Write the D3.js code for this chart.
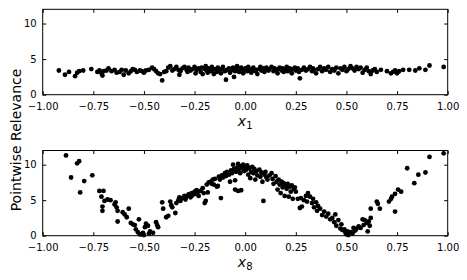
<!DOCTYPE html>
<html>
<head>
<meta charset="utf-8">
<script src="https://cdn.jsdelivr.net/npm/d3@7"></script>
<style>
  body { margin: 0; background: #fff; }
  svg { display: block; }
  .tick text { font-family: "DejaVu Sans", sans-serif; font-size: 10px; fill: #000; }
  .tick line { stroke: #000; }
</style>
</head>
<body>
<script>
// estimated relevance of feature x1 (top panel)
const pointsX1 = [
  [-0.92,3.4],[-0.89,2.8],[-0.87,3.2],[-0.84,2.6],[-0.83,3.1],[-0.82,3.3],[-0.80,3.4],[-0.76,3.6],
  [-0.73,3.2],[-0.72,3.4],[-0.71,3.0],[-0.705,2.7],[-0.70,3.3],[-0.685,3.4],[-0.675,3.7],[-0.66,3.3],
  [-0.645,3.5],[-0.635,3.1],[-0.62,3.2],[-0.61,3.5],[-0.60,2.8],[-0.59,3.4],[-0.575,3.0],[-0.565,3.3],
  [-0.555,3.6],[-0.545,3.5],[-0.535,3.2],[-0.52,3.4],[-0.51,3.3],[-0.50,3.1],[-0.49,3.4],[-0.475,3.5],
  [-0.46,3.8],[-0.45,3.6],[-0.44,3.3],[-0.43,3.0],[-0.42,2.9],[-0.41,2.0],[-0.40,3.2],[-0.39,3.3],
  [-0.38,3.8],[-0.37,4.0],[-0.36,3.4],[-0.35,3.6],[-0.34,3.9],[-0.33,3.5],[-0.325,2.8],[-0.32,3.3],
  [-0.31,3.7],[-0.30,3.9],[-0.29,3.5],[-0.285,3.2],[-0.28,3.8],[-0.27,3.4],[-0.26,3.6],[-0.25,3.9],
  [-0.245,3.0],[-0.24,3.5],[-0.23,3.7],[-0.22,3.2],[-0.215,3.8],[-0.21,2.9],[-0.20,3.6],[-0.195,4.0],
  [-0.19,3.4],[-0.185,3.1],[-0.18,3.7],[-0.17,3.3],[-0.165,3.9],[-0.16,3.5],[-0.155,2.9],[-0.15,3.6],
  [-0.14,3.2],[-0.135,3.8],[-0.13,3.4],[-0.12,3.0],[-0.115,3.6],[-0.11,3.9],[-0.10,3.3],[-0.095,2.1],
  [-0.09,3.5],[-0.08,3.7],[-0.075,3.1],[-0.07,3.4],[-0.06,3.8],[-0.055,2.5],[-0.05,3.3],[-0.045,3.6],
  [-0.04,4.0],[-0.03,3.2],[-0.025,3.5],[-0.02,3.8],[-0.01,3.0],[-0.005,3.4],[0.0,3.7],[0.01,3.3],
  [0.015,3.9],[0.02,3.5],[0.03,3.1],[0.035,3.6],[0.04,3.8],[0.05,3.3],[0.055,3.5],[0.06,2.9],
  [0.07,3.6],[0.075,3.9],[0.08,3.4],[0.09,3.7],[0.095,3.2],[0.10,3.5],[0.105,3.8],[0.115,3.4],
  [0.12,3.6],[0.13,3.9],[0.14,3.3],[0.145,3.7],[0.15,3.5],[0.16,3.0],[0.165,3.6],[0.17,3.8],
  [0.18,3.4],[0.185,3.7],[0.19,3.2],[0.20,3.6],[0.205,3.9],[0.21,3.3],[0.22,3.7],[0.225,3.5],
  [0.23,3.0],[0.24,3.6],[0.245,3.8],[0.25,3.4],[0.26,3.7],[0.265,3.2],[0.27,2.3],[0.28,3.5],
  [0.29,3.8],[0.30,3.4],[0.31,3.6],[0.32,3.9],[0.33,3.3],[0.335,3.7],[0.34,3.5],[0.35,3.0],
  [0.36,3.6],[0.37,3.9],[0.38,3.3],[0.39,3.7],[0.40,3.5],[0.41,3.9],[0.42,3.2],[0.43,3.6],
  [0.44,3.4],[0.45,3.8],[0.46,3.0],[0.47,3.7],[0.48,3.5],[0.49,3.9],[0.50,3.3],[0.51,3.6],
  [0.52,4.0],[0.53,3.7],[0.54,3.4],[0.55,3.9],[0.56,3.6],[0.57,3.8],[0.58,3.1],[0.59,3.5],
  [0.60,3.8],[0.61,3.3],[0.62,2.9],[0.63,3.4],[0.64,3.6],[0.65,3.2],[0.67,3.5],[0.70,3.3],
  [0.72,3.0],[0.73,3.2],[0.74,3.4],[0.75,3.0],[0.76,3.3],[0.78,3.5],[0.81,3.5],[0.84,3.4],
  [0.86,3.7],[0.89,3.5],[0.91,4.1],[0.98,3.9]
];

// estimated relevance of feature x8 (bottom panel)
const pointsX8 = [
  [-0.885,11.3],[-0.86,8.2],[-0.83,10.2],[-0.82,10.5],[-0.815,6.1],[-0.795,7.7],[-0.755,8.5],[-0.72,6.3],
  [-0.70,6.3],[-0.71,5.5],[-0.695,4.9],[-0.705,4.1],[-0.705,3.5],[-0.68,5.1],[-0.665,5.0],[-0.645,4.4],
  [-0.64,4.7],[-0.635,4.0],[-0.63,3.5],[-0.63,2.0],[-0.605,3.3],[-0.595,3.0],[-0.585,2.6],[-0.575,3.8],
  [-0.565,1.8],[-0.555,1.6],[-0.545,1.5],[-0.54,0.9],[-0.53,0.5],[-0.525,2.3],[-0.52,0.2],[-0.51,0.2],
  [-0.505,0.4],[-0.50,0.1],[-0.495,1.2],[-0.49,1.7],[-0.48,1.4],[-0.475,0.3],[-0.47,0.6],[-0.455,0.4],
  [-0.44,1.9],[-0.435,1.5],[-0.43,1.2],[-0.41,4.7],[-0.405,3.8],[-0.39,2.6],[-0.38,2.8],[-0.37,4.8],
  [-0.365,4.3],[-0.36,4.0],[-0.345,3.2],
  [-0.34,4.6],[-0.33,5.0],[-0.325,5.4],[-0.32,4.9],[-0.31,5.3],[-0.30,5.6],[-0.295,5.1],[-0.29,5.5],
  [-0.28,5.8],[-0.27,5.4],[-0.265,6.0],[-0.26,5.7],[-0.25,6.2],[-0.245,5.9],[-0.24,6.4],[-0.235,6.1],
  [-0.23,5.6],[-0.22,6.3],[-0.21,6.7],[-0.205,6.0],[-0.20,4.6],[-0.195,4.9],[-0.19,7.2],[-0.185,6.1],
  [-0.18,7.5],[-0.17,7.6],[-0.165,7.3],[-0.16,7.9],[-0.155,7.2],[-0.15,8.0],[-0.14,6.9],[-0.135,7.0],
  [-0.13,8.3],[-0.125,7.9],[-0.12,5.3],[-0.115,8.5],[-0.11,8.2],[-0.10,8.8],[-0.095,8.4],[-0.09,9.0],
  [-0.08,8.6],[-0.075,7.6],[-0.07,9.2],[-0.065,8.8],[-0.06,10.0],[-0.055,9.4],[-0.05,7.8],[-0.05,6.5],
  [-0.045,9.0],[-0.04,9.6],[-0.035,6.3],[-0.035,10.1],[-0.03,9.3],[-0.025,8.8],[-0.02,6.4],[-0.02,9.8],
  [-0.015,9.5],[-0.01,10.0],[-0.005,9.1],[0.0,9.7],
  [0.005,9.3],[0.01,9.9],[0.015,8.6],[0.02,9.5],[0.025,8.1],[0.03,9.0],[0.035,9.7],[0.04,8.8],
  [0.045,9.4],[0.05,7.9],[0.055,9.1],[0.06,8.5],[0.07,9.3],[0.075,8.3],[0.08,8.9],[0.085,7.6],
  [0.09,4.9],[0.095,8.6],[0.10,9.0],[0.105,8.2],[0.11,7.9],[0.12,8.5],[0.13,8.8],[0.135,8.0],
  [0.14,7.3],[0.15,8.4],[0.155,7.6],[0.16,6.5],[0.165,7.9],[0.17,7.2],[0.175,6.0],[0.18,7.6],
  [0.185,6.8],[0.19,7.4],[0.195,5.6],[0.20,7.0],[0.205,6.6],[0.21,7.3],[0.215,5.5],[0.22,6.9],
  [0.225,6.2],[0.23,7.1],[0.235,5.2],[0.24,6.6],[0.245,6.8],[0.25,6.2],[0.26,5.2],[0.27,3.9],
  [0.275,5.3],[0.28,4.1],[0.29,5.0],[0.30,5.6],[0.305,4.8],[0.31,6.0],[0.32,5.5],[0.33,4.6],
  [0.335,5.2],[0.34,4.0],[0.35,4.7],[0.355,3.5],[0.36,4.2],[0.37,3.8],[0.38,2.9],[0.39,3.4],
  [0.40,2.7],[0.41,3.1],[0.42,2.3],[0.43,2.5],[0.44,1.9],[0.445,3.0],[0.45,1.4],[0.46,2.2],
  [0.47,1.0],[0.475,1.6],[0.48,0.8],[0.49,0.9],[0.495,0.4],[0.50,0.2],[0.505,0.6],[0.51,0.1],
  [0.52,0.5],[0.53,0.3],[0.54,0.7],[0.55,1.0],
  [0.535,1.1],[0.545,0.8],[0.56,1.3],[0.57,1.1],[0.58,2.3],[0.585,1.5],[0.59,2.2],[0.60,1.8],
  [0.605,0.6],[0.61,2.0],[0.615,1.4],[0.62,2.5],[0.62,3.8],[0.65,4.8],[0.655,4.5],[0.665,3.8],
  [0.71,4.8],[0.72,5.2],[0.725,5.5],[0.74,3.4],[0.74,5.9],[0.755,6.5],[0.77,6.2],[0.80,9.5],
  [0.835,7.4],[0.855,8.6],[0.89,8.9],[0.91,11.1],[0.98,11.6]
];

const xTicks = [-1, -0.75, -0.5, -0.25, 0, 0.25, 0.5, 0.75, 1];
const yTicks = [0, 5, 10];
const panelLabels = ["1", "8"];

const width = 467, height = 280;
const left = 42.7, right = 447.7;

const svg = d3.select("body").append("svg")
    .attr("width", width)
    .attr("height", height);

const x = d3.scaleLinear().domain([-1, 1]).range([left, right]);

const fmt = d => d3.format(".2f")(d).replace("-", "\u2212");

function panel(points, top, bottom, sub) {
  const y = d3.scaleLinear().domain([0, 12]).range([bottom, top]);
  const g = svg.append("g");

  // dots
  g.append("g").selectAll("circle")
    .data(points)
    .enter().append("circle")
    .attr("cx", d => x(d[0]))
    .attr("cy", d => y(d[1]))
    .attr("r", 2.4)
    .attr("fill", "#000");

  // axes, ticks pointing inward on all sides
  const axB = g.append("g").attr("transform", `translate(0,${bottom})`)
    .call(d3.axisBottom(x).tickValues(xTicks).tickFormat(fmt).tickSizeInner(-3.5).tickSizeOuter(0).tickPadding(6));
  const axT = g.append("g").attr("transform", `translate(0,${top})`)
    .call(d3.axisTop(x).tickValues(xTicks).tickFormat("").tickSizeInner(-3.5).tickSizeOuter(0));
  const axL = g.append("g").attr("transform", `translate(${left},0)`)
    .call(d3.axisLeft(y).tickValues(yTicks).tickSizeInner(-3.5).tickSizeOuter(0).tickPadding(6));
  const axR = g.append("g").attr("transform", `translate(${right},0)`)
    .call(d3.axisRight(y).tickValues(yTicks).tickFormat("").tickSizeInner(-3.5).tickSizeOuter(0));
  [axB, axT, axL, axR].forEach(a => a.select(".domain").remove());
  axB.selectAll(".tick text").attr("dy", "0.9em");

  // frame
  g.append("rect")
    .attr("x", left).attr("y", top)
    .attr("width", right - left).attr("height", bottom - top)
    .attr("fill", "none").attr("stroke", "#000").attr("stroke-width", 1);

  // axis label x_n
  const lab = g.append("text")
    .attr("x", x(0))
    .attr("y", bottom + 31)
    .attr("text-anchor", "middle")
    .style("font-family", "DejaVu Sans, sans-serif")
    .style("font-size", "14px");
  lab.append("tspan").style("font-style", "italic").text("x");
  lab.append("tspan").attr("dy", 3).style("font-size", "10px").text(sub);
}

panel(pointsX1, 9.3, 94.7, panelLabels[0]);
panel(pointsX8, 150.5, 235.7, panelLabels[1]);

svg.append("text")
    .attr("transform", "translate(21,140) rotate(-90)")
    .attr("text-anchor", "middle")
    .style("font-family", "DejaVu Sans, sans-serif")
    .style("font-size", "14px")
    .text("Pointwise Relevance");
</script>
</body>
</html>
